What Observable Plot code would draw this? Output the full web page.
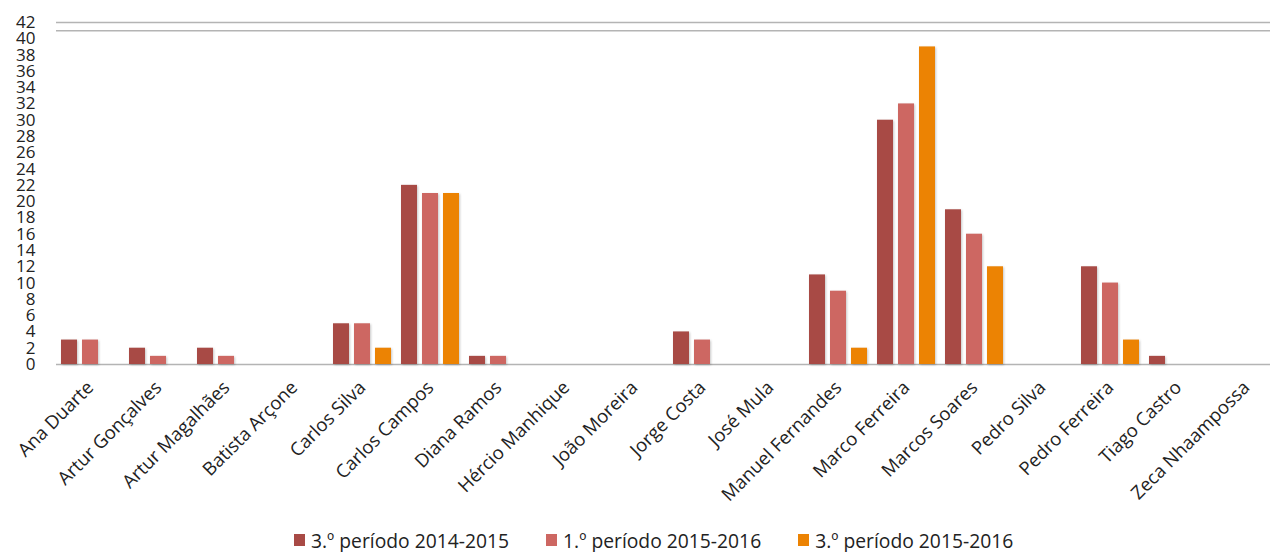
<!DOCTYPE html>
<html>
<head>
<meta charset="utf-8">
<script src="https://cdn.jsdelivr.net/npm/d3@7"></script>
<script src="https://cdn.jsdelivr.net/npm/@observablehq/plot@0.6"></script>
<style>
  html, body { margin: 0; padding: 0; background: #fff; }
  body { width: 1270px; height: 552px; overflow: hidden; font-family: "Open Sans", sans-serif; }
  #chart svg { display: block; }
  #chart rect { filter: drop-shadow(1px 1px 1.2px rgba(0,0,0,0.22)); }
  .legend { display: flex; justify-content: flex-start; height: 24px; align-items: center;
            font-size: 19.3px; color: #222; padding-left: 294px; }
  .legend .item { display: flex; align-items: center; margin-right: 37px; }
  .legend .sw { width: 11px; height: 12px; margin-right: 6px; display: inline-block; }
</style>
</head>
<body>
<div id="chart"></div>
<div class="legend" id="legend"></div>
<script>
// Pupils, one group of bars per name
const names = [
  "Ana Duarte", "Artur Gonçalves", "Artur Magalhães", "Batista Arçone",
  "Carlos Silva", "Carlos Campos", "Diana Ramos", "Hércio Manhique",
  "João Moreira", "Jorge Costa", "José Mula", "Manuel Fernandes",
  "Marco Ferreira", "Marcos Soares", "Pedro Silva", "Pedro Ferreira",
  "Tiago Castro", "Zeca Nhaampossa"
];

// Series (school terms)
const series = ["3.º período 2014-2015", "1.º período 2015-2016", "3.º período 2015-2016"];
const colors = ["#A84A45", "#CD6762", "#EC8303"];

// Values per term, in the order of names
const term3_2014_2015 = [3, 2, 2, 0, 5, 22, 1, 0, 0, 4, 0, 11, 30, 19, 0, 12, 1, 0];
const term1_2015_2016 = [3, 1, 1, 0, 5, 21, 1, 0, 0, 3, 0, 9, 32, 16, 0, 10, 0, 0];
const term3_2015_2016 = [0, 0, 0, 0, 2, 21, 0, 0, 0, 0, 0, 2, 39, 12, 0, 3, 0, 0];

// Y axis ticks and the horizontal rules across the top
const yTicks = d3.range(0, 43, 2);
const topRules = [42, 41];

const seriesValues = [term3_2014_2015, term1_2015_2016, term3_2015_2016];
const rows = [];
names.forEach((name, i) => {
  series.forEach((s, j) => {
    rows.push({name, term: s, value: seriesValues[j][i]});
  });
});

const chart = Plot.plot({
  width: 1270,
  height: 528,
  marginTop: 22,
  marginBottom: 164,
  marginLeft: 54,
  marginRight: 0,
  style: {fontFamily: "Open Sans, sans-serif", color: "#222", background: "#fff", overflow: "hidden"},
  // facets touch each other so the rules drawn in every facet join up
  fx: {domain: names, range: [54, 1282], paddingInner: 0, paddingOuter: 0, label: null},
  x: {domain: series, paddingInner: 0.22, paddingOuter: 0.17, axis: null},
  y: {domain: [0, 42], label: null},
  color: {domain: series, range: colors},
  marks: [
    Plot.ruleY(topRules, {y: d => d, stroke: "#b4b4b4", strokeWidth: 1.5, facet: "exclude"}),
    Plot.ruleY([0], {stroke: "#b4b4b4", strokeWidth: 1.5, facet: "exclude"}),
    Plot.barY(rows, {fx: "name", x: "term", y: "value", fill: "term"}),
    Plot.axisY({ticks: yTicks, tickSize: 0, tickPadding: 21, fontSize: 17, label: null}),
    Plot.axisFx({anchor: "bottom", tickRotate: -45, tickSize: 0, tickPadding: 20, fontSize: 18.5, label: null})
  ]
});
document.getElementById("chart").appendChild(chart);

// Legend below the chart
const legend = document.getElementById("legend");
series.forEach((s, j) => {
  const item = document.createElement("span");
  item.className = "item";
  const sw = document.createElement("span");
  sw.className = "sw";
  sw.style.background = colors[j];
  item.appendChild(sw);
  item.appendChild(document.createTextNode(s));
  legend.appendChild(item);
});
</script>
</body>
</html>
